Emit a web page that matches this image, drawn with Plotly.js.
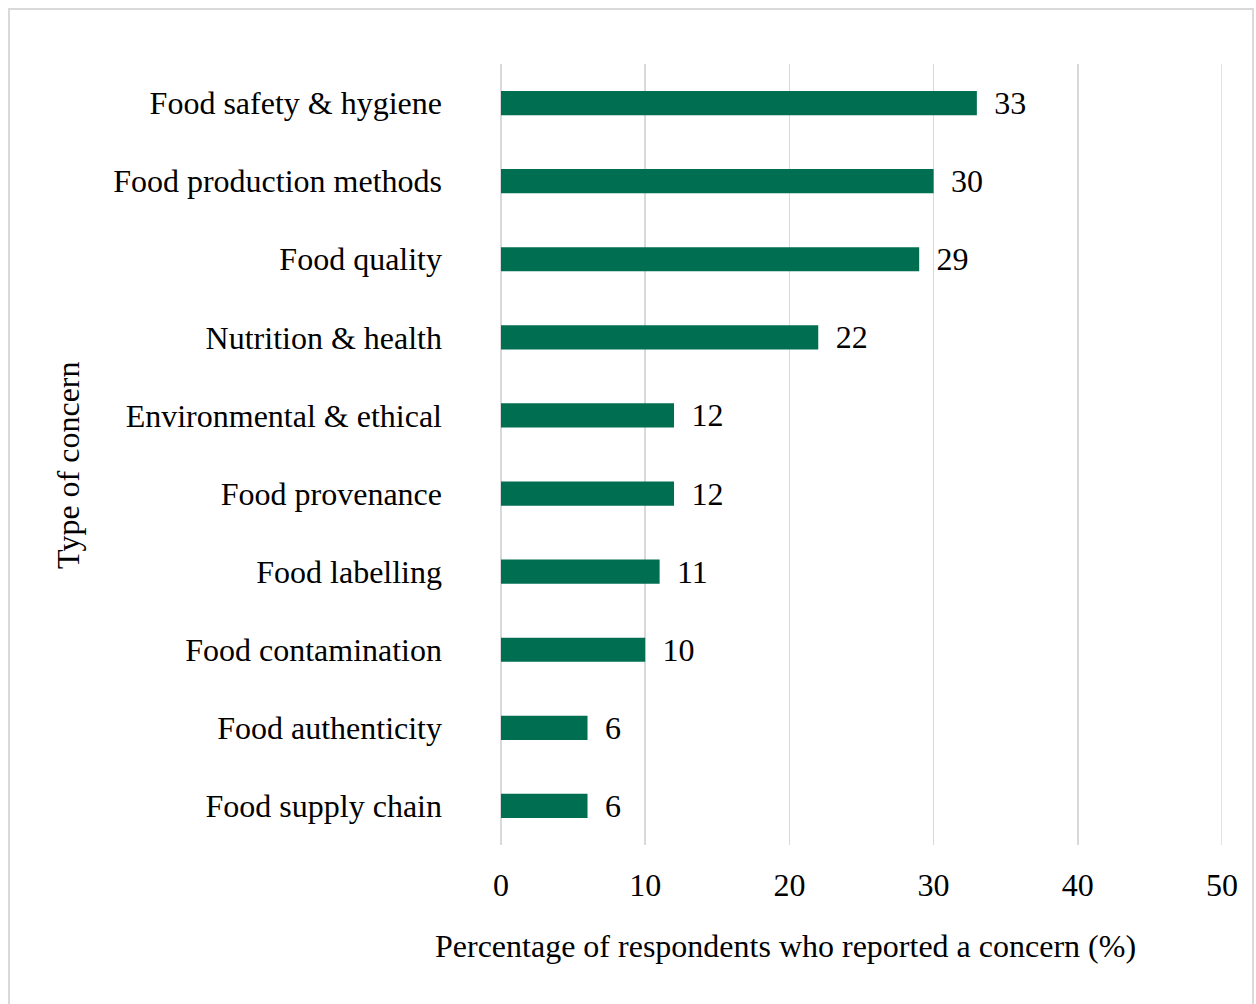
<!DOCTYPE html>
<html>
<head>
<meta charset="utf-8">
<script src="https://cdn.plot.ly/plotly-3.0.1.min.js"></script>
<style>
  html, body { margin: 0; padding: 0; background: #fff; }
  #frame { position: absolute; left: 8px; top: 8px; width: 1246px; height: 1000px; border: 2px solid #d9d9d9; box-sizing: border-box; pointer-events: none; }
  #chart { position: absolute; left: 0; top: 0; width: 1256px; height: 1004px; }
</style>
</head>
<body>
<div id="chart"></div>
<div id="frame"></div>
<script>
const categories = [
  "Food safety & hygiene",
  "Food production methods",
  "Food quality",
  "Nutrition & health",
  "Environmental & ethical",
  "Food provenance",
  "Food labelling",
  "Food contamination",
  "Food authenticity",
  "Food supply chain"
];
const values = [33, 30, 29, 22, 12, 12, 11, 10, 6, 6];
const xTicks = [0, 10, 20, 30, 40, 50];
const xTitle = "Percentage of respondents who reported a concern (%)";
const yTitle = "Type of concern";

const FONT = "Liberation Serif, Times New Roman, serif";
const FS = 32;
const GRID = "#d9d9d9";

const trace = {
  type: "bar",
  orientation: "h",
  x: values,
  y: categories,
  marker: { color: "#006e51" },
  text: values.map(v => "\u00a0\u2009" + v),
  textposition: "outside",
  constraintext: "none",
  cliponaxis: false,
  textfont: { family: FONT, size: FS, color: "#000" },
  hoverinfo: "none"
};

const xMax = xTicks[xTicks.length - 1];

const layout = {
  width: 1256,
  height: 1004,
  margin: { l: 501, r: 34, t: 64, b: 159, pad: 0 },
  paper_bgcolor: "#fff",
  plot_bgcolor: "#fff",
  font: { family: FONT, size: FS, color: "#000" },
  showlegend: false,
  bargap: 0.69,
  xaxis: {
    range: [0, xMax],
    tickvals: xTicks,
    ticktext: xTicks.map(String),
    showgrid: true,
    gridcolor: GRID,
    gridwidth: 1.5,
    zeroline: true,
    zerolinecolor: GRID,
    zerolinewidth: 1.5,
    showline: false,
    ticks: "",
    ticklabelstandoff: 18,
    tickfont: { family: FONT, size: FS, color: "#000" },
    fixedrange: true
  },
  yaxis: {
    categoryorder: "array",
    categoryarray: categories.slice().reverse(),
    autorange: false,
    range: [-0.5, categories.length - 0.5],
    showgrid: false,
    zeroline: false,
    showline: false,
    ticks: "",
    ticklabelstandoff: 58,
    tickfont: { family: FONT, size: FS, color: "#000" },
    fixedrange: true
  },
  shapes: [
    {
      type: "line", xref: "x", yref: "paper",
      x0: xMax, x1: xMax, y0: 0, y1: 1,
      line: { color: GRID, width: 1.5 },
      layer: "below"
    }
  ],
  annotations: [
    {
      text: xTitle, xref: "paper", yref: "paper",
      x: 0.394, y: -0.129, xanchor: "center", yanchor: "middle",
      showarrow: false, font: { family: FONT, size: FS, color: "#000" }
    },
    {
      text: yTitle, xref: "paper", yref: "paper",
      x: -0.6006, y: 0.4866, xanchor: "center", yanchor: "middle",
      textangle: -90,
      showarrow: false, font: { family: FONT, size: FS, color: "#000" }
    }
  ]
};

Plotly.newPlot("chart", [trace], layout, { displayModeBar: false, staticPlot: true });
</script>
</body>
</html>
